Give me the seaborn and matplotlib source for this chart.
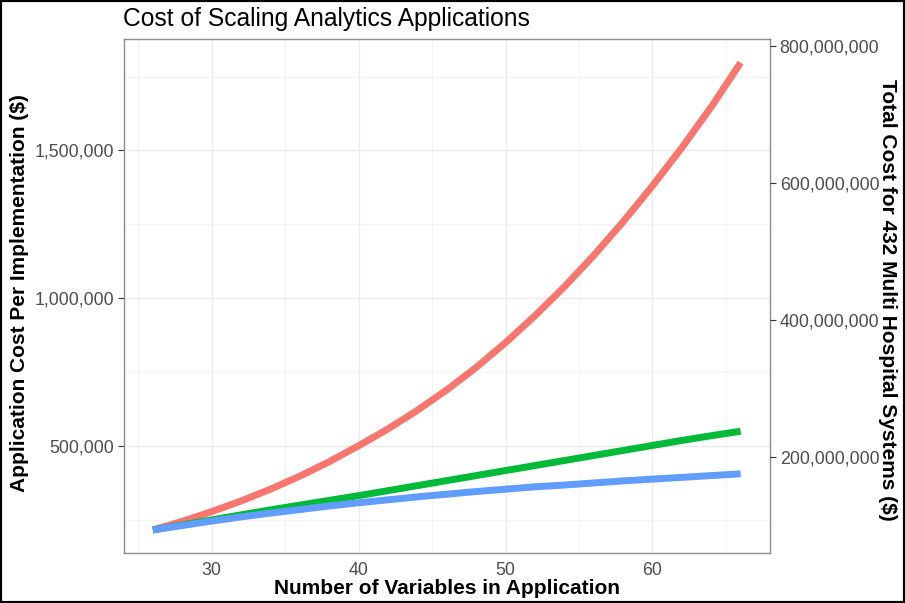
import matplotlib
matplotlib.use("Agg")
import matplotlib.pyplot as plt
import matplotlib.ticker as mticker
from matplotlib.patches import Rectangle
import seaborn as sns
import pandas as pd

sns.set_style("white")
plt.rcParams['font.family'] = ['Liberation Sans', 'DejaVu Sans']

variables = [26, 28, 30, 32, 34, 36, 38, 40, 42, 44, 46, 48, 50, 52, 54, 56, 58, 60, 62, 64, 66]
cost_exponential = [215000, 244000, 277000, 313000, 353000, 397000, 446000, 500000, 557000, 620000,
                     689000, 765000, 849000, 940000, 1038000, 1144000, 1258000, 1380000, 1509000,
                     1647000, 1797000]
cost_linear = [215000, 232000, 249000, 266000, 283000, 299000, 315000, 331000, 348000, 365000,
               382000, 399000, 416000, 433000, 450000, 467000, 484000, 501000, 518000, 534000, 549000]
cost_log = [215000, 230000, 245000, 259000, 272000, 284000, 296000, 307000, 317000, 327000,
            336000, 345000, 353000, 361000, 367000, 374000, 381000, 387000, 393000, 399000, 405000]
n_systems = 432

models = ["exponential", "linear", "log"]
palette = {"exponential": "#F8766D", "linear": "#00BA38", "log": "#619CFF"}

df = pd.DataFrame({
    "variables": variables * 3,
    "cost": cost_exponential + cost_linear + cost_log,
    "model": [models[0]] * len(variables) + [models[1]] * len(variables) + [models[2]] * len(variables),
})

W, H = 905, 603
fig = plt.figure(figsize=(W / 100, H / 100), dpi=100)
L, R, T, B = 123.5, 770, 39.3, 553.3
ax = fig.add_axes([L / W, 1 - B / H, (R - L) / W, (B - T) / H])

sns.lineplot(data=df, x="variables", y="cost", hue="model", hue_order=models, palette=palette,
             legend=False, linewidth=5.0, ax=ax, solid_capstyle="butt", solid_joinstyle="round",
             sort=True)

allv = cost_exponential + cost_linear + cost_log
lo, hi = min(allv), max(allv)
pad = 0.05 * (hi - lo)
ylo, yhi = lo - pad, hi + pad
ax.set_ylim(ylo, yhi)
xpad = 0.05 * (max(variables) - min(variables))
ax.set_xlim(min(variables) - xpad, max(variables) + xpad)

ax.set_xticks([30, 40, 50, 60])
ax.set_xticks([25, 35, 45, 55, 65], minor=True)
ax.set_yticks([500000, 1000000, 1500000])
ax.set_yticks([250000, 750000, 1250000, 1750000], minor=True)
ax.yaxis.set_major_formatter(mticker.FuncFormatter(lambda v, p: f"{int(v):,}"))
ax.grid(True, which="major", color="#EBEBEB", linewidth=1.0)
ax.grid(True, which="minor", color="#F2F2F2", linewidth=0.6)
ax.set_axisbelow(True)
for s in ax.spines.values():
    s.set_color("#8C8C8C")
    s.set_linewidth(1.0)
ax.tick_params(which="major", length=4, width=0.8, color="#333333", labelsize=12.8,
               labelcolor="#4D4D4D", pad=3)
ax.tick_params(axis="x", which="major", pad=2)
ax.tick_params(which="minor", length=0)
ax.set_xlabel("")
ax.set_ylabel("")

ax2 = ax.twinx()
ax2.set_ylim(ylo * n_systems, yhi * n_systems)
ax2.set_yticks([200000000, 400000000, 600000000, 800000000])
ax2.yaxis.set_major_formatter(mticker.FuncFormatter(lambda v, p: f"{int(v):,}"))
ax2.tick_params(length=4, width=0.8, color="#333333", labelsize=12.8, labelcolor="#4D4D4D", pad=3)
for s in ax2.spines.values():
    s.set_visible(False)

fig.text(123 / W, 1 - 19 / H, "Cost of Scaling Analytics Applications", fontsize=17.7,
         ha="left", va="center", color="black")
fig.text((L + R) / 2 / W, 1 - 589 / H, "Number of Variables in Application", fontsize=15,
         fontweight="bold", ha="center", va="center", color="black")
fig.text(20 / W, 1 - 293 / H, "Application Cost Per Implementation ($)", fontsize=15,
         fontweight="bold", ha="center", va="center", rotation=90, color="black")
fig.text(887 / W, 1 - 300 / H, "Total Cost for 432 Multi Hospital Systems ($)", fontsize=15,
         fontweight="bold", ha="center", va="center", rotation=-90, color="black")

fig.patches.append(Rectangle((0, 0), 1, 1, transform=fig.transFigure, fill=False,
                             edgecolor="black", linewidth=3, zorder=10))

fig.savefig("out.png", dpi=100)
